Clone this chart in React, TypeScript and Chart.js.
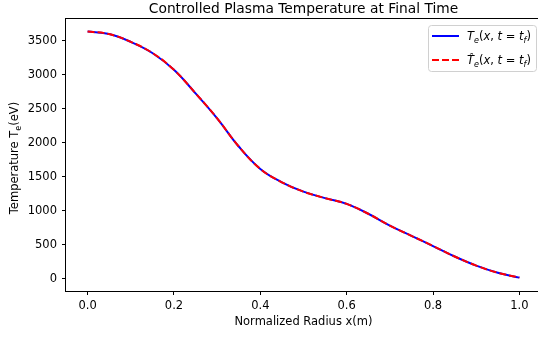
import React, { useEffect, useRef } from "react";
import { Chart, registerables } from "chart.js";

Chart.register(...registerables);

const radius = [0, 0.05, 0.1, 0.15, 0.2, 0.25, 0.3, 0.35, 0.4, 0.45, 0.5, 0.55, 0.6, 0.65, 0.7, 0.75, 0.8, 0.85, 0.9, 0.95, 1.0];
const temperature = [3638, 3600, 3485, 3322, 3074, 2728, 2360, 1945, 1615, 1418, 1280, 1185, 1100, 955, 780, 630, 480, 326, 192, 87, 15];
const temperatureHat = [3638, 3600, 3485, 3322, 3074, 2728, 2360, 1945, 1615, 1418, 1280, 1185, 1100, 955, 780, 630, 480, 326, 192, 87, 15];
const xTicks = [0, 0.2, 0.4, 0.6, 0.8, 1.0];
const yTicks = [0, 500, 1000, 1500, 2000, 2500, 3000, 3500];
const titleText = "Controlled Plasma Temperature at Final Time";
const xLabel = "Normalized Radius x(m)";
const yLabelMain = "Temperature T";
const yLabelSub = "e";
const yLabelTail = "(eV)";

type Part = { t: string; it?: boolean; sub?: boolean };
const labelTe: Part[] = [
  { t: "T", it: true }, { t: "e", it: true, sub: true }, { t: "(" }, { t: "x", it: true }, { t: ", " },
  { t: "t", it: true }, { t: " = " }, { t: "t", it: true }, { t: "f", it: true, sub: true }, { t: ")" },
];
const labelTeHat: Part[] = [
  { t: "T\u0302", it: true }, { t: "e", it: true, sub: true }, { t: "(" }, { t: "x", it: true }, { t: ", " },
  { t: "t", it: true }, { t: " = " }, { t: "t", it: true }, { t: "f", it: true, sub: true }, { t: ")" },
];

const FONT = '"DejaVu Sans"';
const TICK_SIZE = 11.5;

function drawParts(ctx: CanvasRenderingContext2D, parts: Part[], x: number, y: number, size: number) {
  let cx = x;
  for (const p of parts) {
    const s = p.sub ? size * 0.7 : size;
    ctx.font = `${p.it ? "italic " : ""}${s}px ${FONT}`;
    ctx.fillText(p.t, cx, p.sub ? y + size * 0.22 : y);
    cx += ctx.measureText(p.t).width;
  }
}

const decorPlugin = {
  id: "decor",
  afterDraw(chart: any) {
    const ctx: CanvasRenderingContext2D = chart.ctx;
    const { left, right, top, bottom } = chart.chartArea;
    ctx.save();
    // frame
    ctx.strokeStyle = "#000";
    ctx.lineWidth = 1;
    ctx.strokeRect(Math.round(left) - 0.5, Math.round(top) - 0.5, Math.round(right - left) + 1, Math.round(bottom - top) + 1);
    // title
    ctx.fillStyle = "#000";
    ctx.textAlign = "center";
    ctx.textBaseline = "middle";
    ctx.font = `13.8px ${FONT}`;
    ctx.fillText(titleText, (left + right) / 2, 9);
    // x label
    ctx.font = `${TICK_SIZE}px ${FONT}`;
    ctx.fillText(xLabel, (left + right) / 2, 322);
    // y label
    ctx.save();
    ctx.translate(14, (top + bottom) / 2 + 3);
    ctx.rotate(-Math.PI / 2);
    ctx.textAlign = "left";
    ctx.textBaseline = "alphabetic";
    ctx.font = `${TICK_SIZE}px ${FONT}`;
    const w1 = ctx.measureText(yLabelMain).width;
    ctx.font = `${TICK_SIZE * 0.7}px ${FONT}`;
    const w2 = ctx.measureText(yLabelSub).width;
    ctx.font = `${TICK_SIZE}px ${FONT}`;
    const w3 = ctx.measureText(yLabelTail).width;
    const total = w1 + w2 + w3;
    let sx = -total / 2;
    const by = 4;
    ctx.fillText(yLabelMain, sx, by);
    sx += w1;
    ctx.font = `${TICK_SIZE * 0.7}px ${FONT}`;
    ctx.fillText(yLabelSub, sx, by + 2.5);
    sx += w2;
    ctx.font = `${TICK_SIZE}px ${FONT}`;
    ctx.fillText(yLabelTail, sx, by);
    ctx.restore();
    // legend
    const lx = 428.5, ly = 25.5, lw = 108, lh = 46;
    ctx.beginPath();
    (ctx as any).roundRect(lx, ly, lw, lh, 3);
    ctx.fillStyle = "rgba(255,255,255,0.8)";
    ctx.fill();
    ctx.strokeStyle = "#d0d0d0";
    ctx.lineWidth = 1;
    ctx.stroke();
    const rows = [
      { y: 36, color: "#0000ff", dash: [] as number[], parts: labelTe },
      { y: 60, color: "#ff0000", dash: [7, 3], parts: labelTeHat },
    ];
    for (const r of rows) {
      ctx.beginPath();
      ctx.setLineDash(r.dash);
      ctx.strokeStyle = r.color;
      ctx.lineWidth = 2;
      ctx.moveTo(432, r.y);
      ctx.lineTo(459, r.y);
      ctx.stroke();
      ctx.setLineDash([]);
      ctx.fillStyle = "#000";
      ctx.textAlign = "left";
      ctx.textBaseline = "alphabetic";
      drawParts(ctx, r.parts, 467, r.y + 4, TICK_SIZE);
    }
    ctx.restore();
  },
};

export default function App() {
  const ref = useRef<HTMLCanvasElement>(null);
  useEffect(() => {
    if (!ref.current) return;
    const tickFont = { family: "DejaVu Sans", size: TICK_SIZE };
    const grid = { drawOnChartArea: false, drawTicks: true, tickLength: 4, color: "#000", lineWidth: 1 };
    const chart = new Chart(ref.current, {
      type: "line",
      data: {
        datasets: [
          {
            label: "Te",
            data: radius.map((x, i) => ({ x, y: temperature[i] })),
            borderColor: "#0000ff",
            borderWidth: 2,
            pointRadius: 0,
            tension: 0.4,
            fill: false,
            order: 2,
          },
          {
            label: "Te hat",
            data: radius.map((x, i) => ({ x, y: temperatureHat[i] })),
            borderColor: "#ff0000",
            borderWidth: 2,
            borderDash: [7, 3],
            pointRadius: 0,
            tension: 0.4,
            fill: false,
            order: 1,
          },
        ],
      },
      options: {
        responsive: false,
        animation: false,
        devicePixelRatio: 1,
        layout: { padding: { top: 19, right: 7, left: 0, bottom: 0 } },
        plugins: { legend: { display: false }, tooltip: { enabled: false }, title: { display: false } },
        scales: {
          x: {
            type: "linear",
            min: -0.05,
            max: 1.05,
            afterBuildTicks: (s: any) => { s.ticks = xTicks.map((v) => ({ value: v })); },
            afterFit: (s: any) => { s.height = 47; },
            ticks: { autoSkip: false, maxRotation: 0, font: tickFont, color: "#000", padding: 4, callback: (v: any) => Number(v).toFixed(1) },
            grid,
            border: { display: false },
          },
          y: {
            type: "linear",
            min: -182,
            max: 3822,
            afterBuildTicks: (s: any) => { s.ticks = yTicks.map((v) => ({ value: v })); },
            afterFit: (s: any) => { s.width = 66; },
            ticks: { autoSkip: false, font: tickFont, color: "#000", padding: 5, callback: (v: any) => String(v) },
            grid,
            border: { display: false },
          },
        },
      },
      plugins: [decorPlugin],
    } as any);
    return () => chart.destroy();
  }, []);
  return (
    <div style={{ position: "fixed", left: 0, top: 0, width: 538, height: 338, overflow: "hidden", background: "#fff" }}>
      <canvas ref={ref} width={548} height={338} style={{ display: "block" }} />
    </div>
  );
}
